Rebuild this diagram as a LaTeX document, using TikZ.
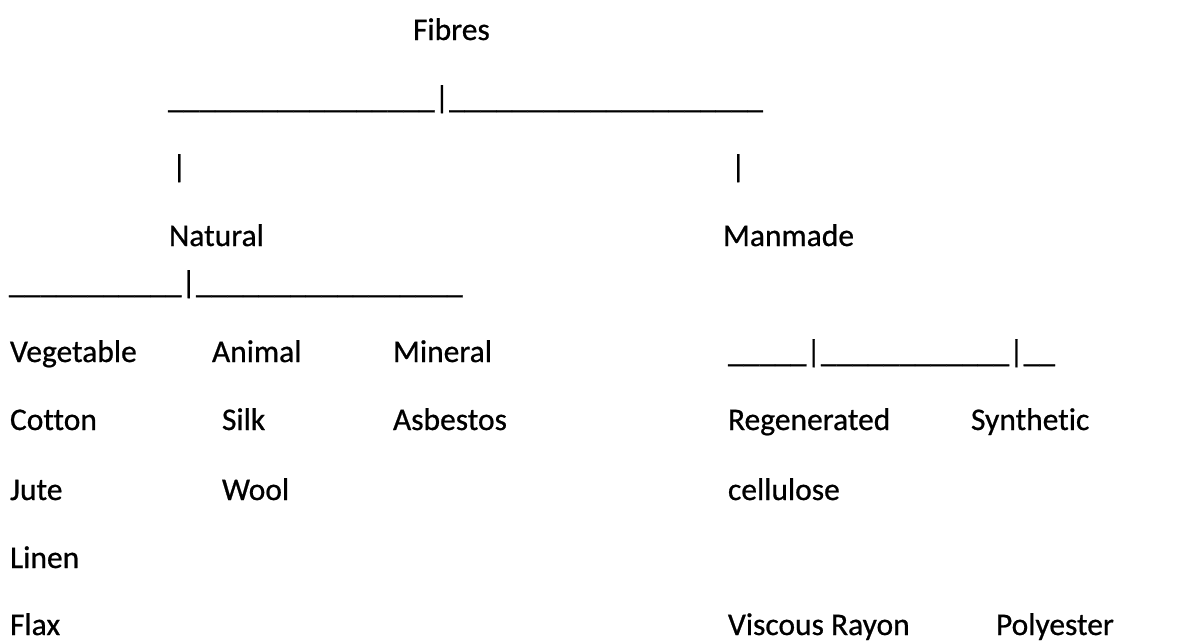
\documentclass[tikz,border=0pt]{standalone}
\usepackage{fontspec}
\setmainfont[Ligatures={NoCommon},FakeBold=0.7]{Carlito}
\newcommand{\us}[1]{\foreach \i in {1,...,#1}{\_}}
\begin{document}
\begin{tikzpicture}[x=1pt,y=-1pt,
  txt/.style={anchor=base west, inner sep=0pt, outer sep=0pt, font=\fontsize{31.5}{38}\selectfont}]
\fill[white] (0,0) rectangle (1203,643);
\useasboundingbox (0,0) rectangle (1203,643);
\node[txt] (fibres) at (413,40) {Fibres};
\node[txt] (line1) at (168,108) {\us{17}|\us{20}};
\node[txt] (pipeL) at (172,177) {|};
\node[txt] (pipeR) at (731,177) {|};
\node[txt] (natural) at (169,246) {Natural};
\node[txt] (manmade) at (723,246) {Manmade};
\node[txt] (line2) at (9,293) {\us{11}|\us{17}};
\node[txt] (veg) at (10,362) {Vegetable};
\node[txt] (animal) at (212,362) {Animal};
\node[txt] (mineral) at (393,362) {Mineral};
\node[txt] (line3) at (728,362) {\us{5}|\us{12}|\us{2}};
\node[txt] (cotton) at (10,430) {Cotton};
\node[txt] (silk) at (222,430) {Silk};
\node[txt] (asbestos) at (393,430) {Asbestos};
\node[txt] (regen) at (728,430) {Regenerated};
\node[txt] (synth) at (971,430) {Synthetic};
\node[txt] (jute) at (10,500) {Jute};
\node[txt] (wool) at (222,500) {Wool};
\node[txt] (cellulose) at (728,500) {cellulose};
\node[txt] (linen) at (10,568) {Linen};
\node[txt] (flax) at (10,635) {Flax};
\node[txt] (viscous) at (728,635) {Viscous Rayon};
\node[txt] (polyester) at (996,635) {Polyester};
\end{tikzpicture}
\end{document}
